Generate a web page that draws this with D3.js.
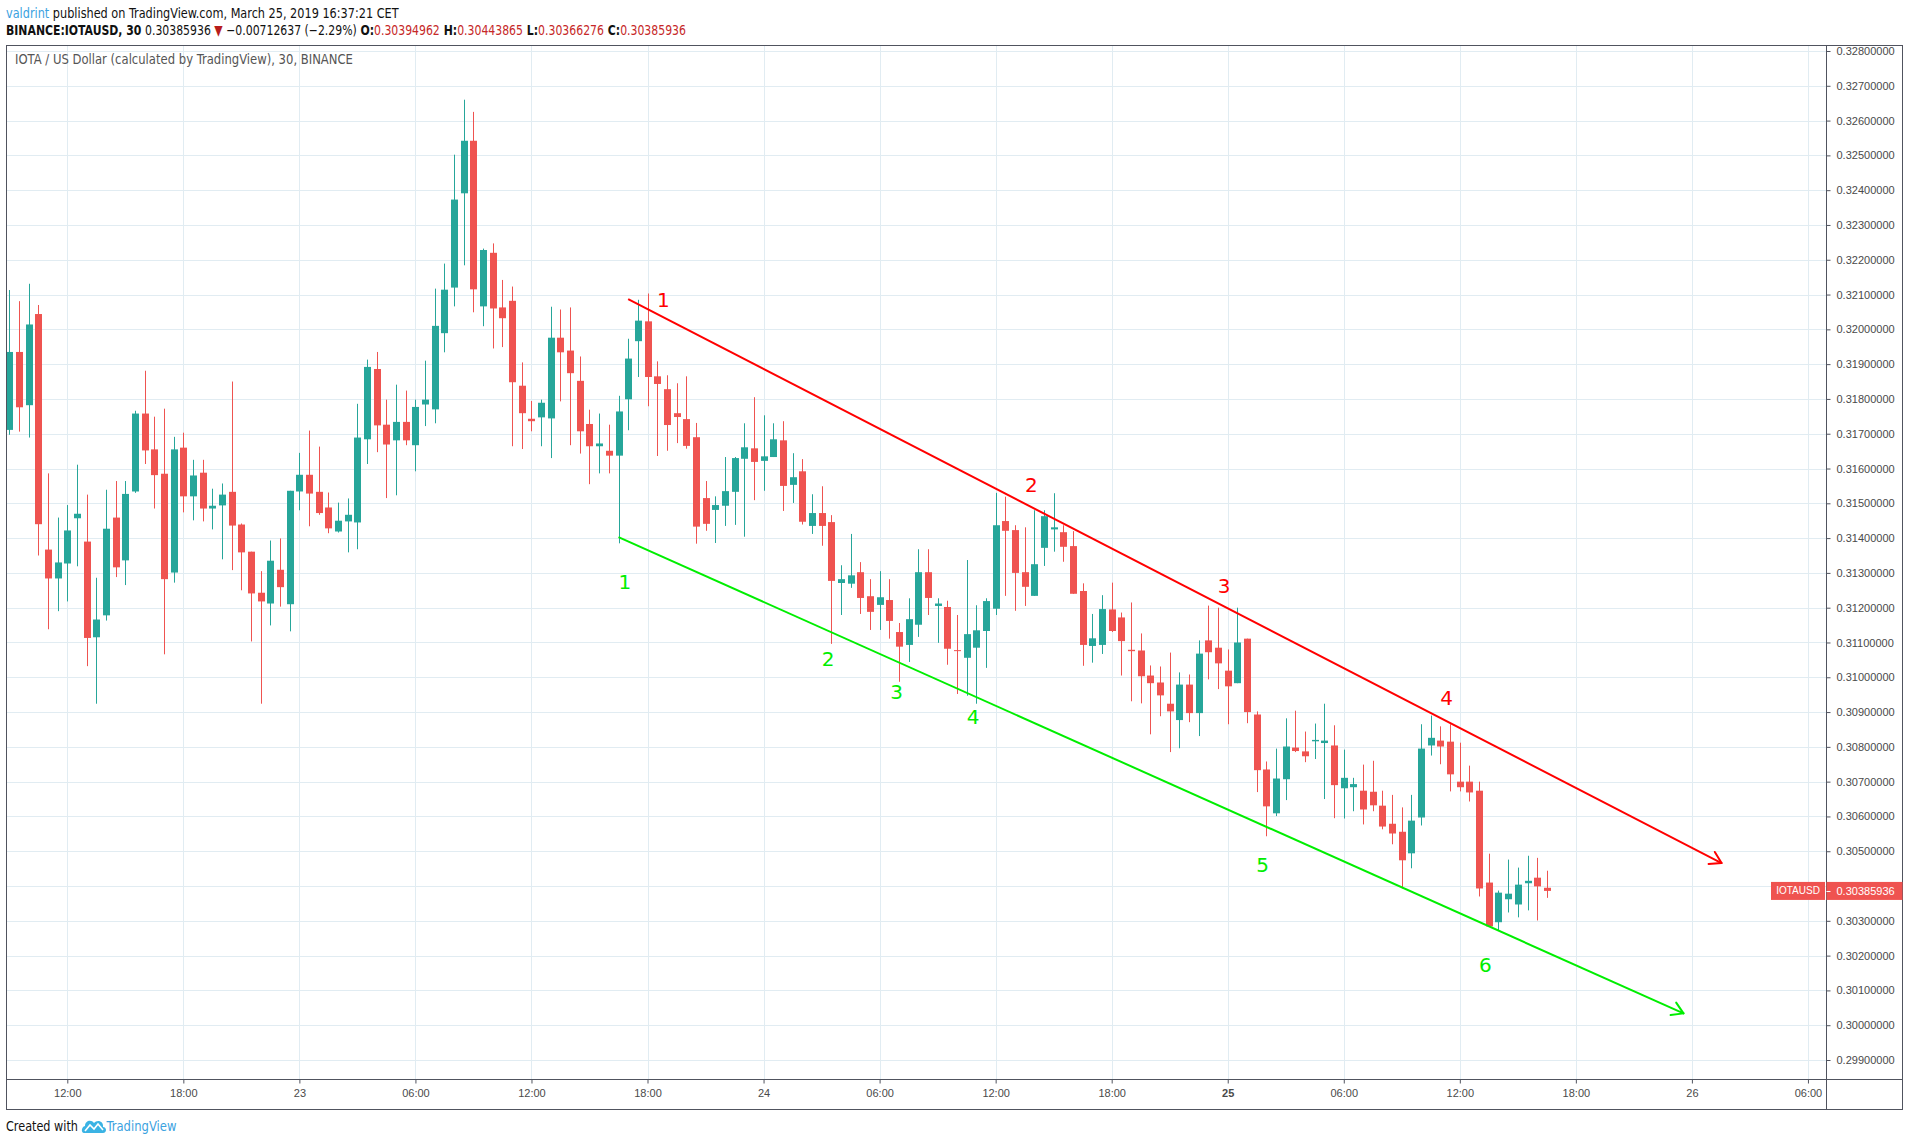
<!DOCTYPE html>
<html>
<head>
<meta charset="utf-8">
<script src="https://cdn.jsdelivr.net/npm/d3@7"></script>
<style>
body { margin: 0; background: #fff; }
svg { display: block; }
</style>
</head>
<body>
<svg id="chart" width="1909" height="1145"></svg>
<script>
// IOTA / USD, Binance, 30 min bars, first bar 22 March 2019 09:00 (CET shown as UTC)
var firstBar = Date.UTC(2019, 2, 22, 9, 0);

var opens = [
  0.31711,0.31935,0.31782,0.32044,0.31367,0.31284,0.31327,0.31457,0.31390,0.31115,
  0.31178,0.31459,0.31336,0.31534,0.31758,0.31655,0.31585,0.31301,0.31660,0.31520,
  0.31588,0.31485,0.31494,0.31533,0.31439,0.31361,0.31243,0.31212,0.31309,0.31210,
  0.31534,0.31582,0.31533,0.31488,0.31419,0.31448,0.31445,0.31684,0.31886,0.31726,
  0.31681,0.31734,0.31667,0.31784,0.31770,0.31989,0.32120,0.32391,0.32542,0.32066,
  0.32220,0.32063,0.32082,0.31838,0.31743,0.31747,0.31744,0.31976,0.31939,0.31852,
  0.31728,0.31664,0.31651,0.31637,0.31799,0.31966,0.32023,0.31865,0.31828,0.31759,
  0.31742,0.31690,0.31515,0.31481,0.31493,0.31533,0.31628,0.31658,0.31622,0.31633,
  0.31681,0.31553,0.31592,0.31435,0.31472,0.31446,0.31271,0.31269,0.31302,0.31233,
  0.31208,0.31222,0.31130,0.31093,0.31151,0.31302,0.31205,0.31202,0.31078,0.31056,
  0.31085,0.31133,0.31197,0.31449,0.31423,0.31302,0.31234,0.31372,0.31425,0.31417,
  0.31377,0.31248,0.31090,0.31093,0.31195,0.31172,0.31079,0.31077,0.31005,0.30985,
  0.30924,0.30877,0.30979,0.30897,0.31106,0.31085,0.31019,0.30983,0.31111,0.30893,
  0.30735,0.30609,0.30707,0.30798,0.30787,0.30816,0.30811,0.30804,0.30681,0.30684,
  0.30674,0.30671,0.30631,0.30579,0.30556,0.30494,0.30597,0.30804,0.30818,0.30815,
  0.30700,0.30700,0.30674,0.30410,0.30296,0.30362,0.30347,0.30408,0.30424,0.30395
];
var highs = [
  0.32113,0.32081,0.32131,0.32070,0.31586,0.31459,0.31495,0.31611,0.31525,0.31286,
  0.31539,0.31564,0.31564,0.31766,0.31881,0.31749,0.31772,0.31691,0.31703,0.31625,
  0.31625,0.31542,0.31557,0.31850,0.31442,0.31361,0.31305,0.31393,0.31399,0.31536,
  0.31645,0.31709,0.31663,0.31531,0.31502,0.31514,0.31786,0.31913,0.31935,0.31798,
  0.31841,0.31824,0.31798,0.31910,0.32117,0.32189,0.32502,0.32660,0.32625,0.32232,
  0.32247,0.32142,0.32123,0.31905,0.31794,0.31798,0.32065,0.32057,0.32063,0.31922,
  0.31769,0.31758,0.31726,0.31809,0.31973,0.32085,0.32103,0.31908,0.31868,0.31845,
  0.31865,0.31731,0.31564,0.31520,0.31633,0.31633,0.31730,0.31805,0.31753,0.31730,
  0.31736,0.31644,0.31627,0.31526,0.31549,0.31466,0.31322,0.31412,0.31331,0.31282,
  0.31305,0.31282,0.31156,0.31227,0.31368,0.31368,0.31227,0.31220,0.31179,0.31337,
  0.31207,0.31227,0.31530,0.31519,0.31437,0.31431,0.31480,0.31480,0.31529,0.31437,
  0.31420,0.31270,0.31182,0.31236,0.31272,0.31186,0.31215,0.31126,0.31034,0.31031,
  0.31071,0.31014,0.31008,0.31106,0.31206,0.31200,0.31080,0.31200,0.31111,0.30902,
  0.30758,0.30795,0.30882,0.30904,0.30844,0.30867,0.30924,0.30862,0.30792,0.30711,
  0.30749,0.30760,0.30674,0.30662,0.30626,0.30662,0.30865,0.30890,0.30859,0.30865,
  0.30812,0.30746,0.30700,0.30493,0.30387,0.30476,0.30453,0.30487,0.30481,0.30444
];
var lows = [
  0.31697,0.31706,0.31689,0.31350,0.31138,0.31190,0.31218,0.31319,0.31032,0.30924,
  0.31163,0.31288,0.31265,0.31530,0.31613,0.31485,0.31066,0.31272,0.31474,0.31451,
  0.31448,0.31425,0.31339,0.31308,0.31250,0.31103,0.30924,0.31149,0.31203,0.31132,
  0.31480,0.31434,0.31467,0.31414,0.31416,0.31359,0.31368,0.31613,0.31647,0.31515,
  0.31523,0.31667,0.31592,0.31722,0.31730,0.31934,0.32066,0.32184,0.32049,0.32009,
  0.31945,0.31949,0.31664,0.31656,0.31707,0.31664,0.31630,0.31793,0.31667,0.31643,
  0.31555,0.31586,0.31586,0.31385,0.31710,0.31863,0.31779,0.31636,0.31651,0.31673,
  0.31657,0.31384,0.31421,0.31386,0.31435,0.31438,0.31404,0.31509,0.31536,0.31633,
  0.31478,0.31501,0.31439,0.31412,0.31378,0.31096,0.31179,0.31257,0.31182,0.31136,
  0.31136,0.31111,0.30987,0.31044,0.31116,0.31179,0.31099,0.31036,0.30952,0.30947,
  0.30924,0.31027,0.31179,0.31234,0.31191,0.31205,0.31234,0.31320,0.31361,0.31332,
  0.31240,0.31033,0.31042,0.31067,0.31130,0.31005,0.30931,0.30925,0.30836,0.30888,
  0.30785,0.30796,0.30871,0.30831,0.30994,0.30966,0.30865,0.30983,0.30868,0.30670,
  0.30543,0.30601,0.30647,0.30785,0.30756,0.30765,0.30650,0.30595,0.30594,0.30615,
  0.30577,0.30615,0.30563,0.30520,0.30393,0.30451,0.30574,0.30775,0.30750,0.30672,
  0.30672,0.30643,0.30370,0.30284,0.30273,0.30324,0.30310,0.30330,0.30301,0.30366
];
var closes = [
  0.31935,0.31776,0.32014,0.31440,0.31284,0.31330,0.31422,0.31470,0.31113,0.31166,
  0.31427,0.31316,0.31527,0.31758,0.31652,0.31581,0.31282,0.31655,0.31520,0.31580,
  0.31485,0.31493,0.31525,0.31436,0.31359,0.31241,0.31218,0.31335,0.31259,0.31536,
  0.31582,0.31528,0.31472,0.31428,0.31450,0.31467,0.31689,0.31892,0.31724,0.31669,
  0.31734,0.31681,0.31777,0.31798,0.32010,0.32114,0.32373,0.32542,0.32115,0.32228,
  0.32060,0.32032,0.31848,0.31759,0.31736,0.31789,0.31976,0.31934,0.31874,0.31707,
  0.31664,0.31672,0.31637,0.31764,0.31916,0.32025,0.31863,0.31843,0.31725,0.31748,
  0.31665,0.31433,0.31441,0.31495,0.31535,0.31630,0.31661,0.31619,0.31635,0.31684,
  0.31550,0.31575,0.31447,0.31472,0.31435,0.31277,0.31282,0.31293,0.31228,0.31188,
  0.31230,0.31162,0.31088,0.31167,0.31302,0.31228,0.31212,0.31082,0.31076,0.31124,
  0.31135,0.31219,0.31437,0.31421,0.31300,0.31260,0.31325,0.31463,0.31431,0.31375,
  0.31240,0.31093,0.31112,0.31196,0.31133,0.31104,0.31075,0.31003,0.30983,0.30948,
  0.30902,0.30979,0.30897,0.31068,0.31072,0.31040,0.30974,0.31100,0.30900,0.30733,
  0.30629,0.30709,0.30801,0.30788,0.30773,0.30820,0.30818,0.30690,0.30711,0.30693,
  0.30620,0.30632,0.30571,0.30551,0.30474,0.30588,0.30795,0.30826,0.30801,0.30721,
  0.30684,0.30669,0.30393,0.30284,0.30381,0.30378,0.30404,0.30415,0.30399,0.30386
];

// price axis ticks and time axis ticks
var priceTicks = d3.range(299, 329).map(function(v) { return v / 1000; });
var timeTicks = d3.utcHour.every(6).range(new Date(Date.UTC(2019, 2, 22, 12)), new Date(Date.UTC(2019, 2, 26, 7)));

// channel lines drawn on the chart: [time, price] start and end
var upperLine = [["2019-03-23T17:00Z", 0.32087], ["2019-03-26T01:32Z", 0.30466]];
var lowerLine = [["2019-03-23T16:30Z", 0.31403], ["2019-03-25T23:34Z", 0.30034]];

// touch point numbers
var upperNums = ["1", "2", "3", "4"];
var upperNumTimes = ["2019-03-23T18:49Z", "2019-03-24T13:51Z", "2019-03-24T23:49Z", "2019-03-25T11:19Z"];
var upperNumPrices = [0.32085, 0.31553, 0.31261, 0.30940];
var lowerNums = ["1", "2", "3", "4", "5", "6"];
var lowerNumTimes = ["2019-03-23T16:50Z", "2019-03-24T03:20Z", "2019-03-24T06:53Z", "2019-03-24T10:50Z", "2019-03-25T01:48Z", "2019-03-25T13:19Z"];
var lowerNumPrices = [0.31273, 0.31052, 0.30957, 0.30885, 0.30461, 0.30174];

var lastPrice = 0.30385936;

var upColor = "#26a69a", downColor = "#ef5350";
var gridColor = "#e1ecf2", frameColor = "#50535e", textColor = "#4a4a4a";

var svg = d3.select("#chart");
var plotLeft = 6.5, plotTop = 45.5, plotRight = 1826.5, boxRight = 1902.5, axisY = 1079.5, boxBottom = 1109.5;

var bars = d3.utcMinute.every(30).range(new Date(firstBar), new Date(firstBar + opens.length * 1800000));

var x = d3.scaleUtc()
    .domain([new Date(Date.UTC(2019, 2, 22, 12)), new Date(Date.UTC(2019, 2, 26, 0))])
    .range([67.3, 1691.9]);
var y = d3.scaleLinear()
    .domain([0.299, 0.328])
    .range([1060, 51]);

svg.append("rect").attr("width", 1909).attr("height", 1145).attr("fill", "#fff");

svg.append("defs").append("clipPath").attr("id", "plot")
  .append("rect")
    .attr("x", plotLeft).attr("y", plotTop)
    .attr("width", plotRight - plotLeft).attr("height", axisY - plotTop);

// grid
var grid = svg.append("g").attr("clip-path", "url(#plot)");
grid.selectAll(".vg").data(timeTicks).enter().append("line")
    .attr("x1", function(d) { return Math.round(x(d)) + 0.5; })
    .attr("x2", function(d) { return Math.round(x(d)) + 0.5; })
    .attr("y1", plotTop).attr("y2", axisY)
    .attr("stroke", gridColor);
grid.selectAll(".hg").data(priceTicks).enter().append("line")
    .attr("y1", function(d) { return Math.round(y(d)) + 0.5; })
    .attr("y2", function(d) { return Math.round(y(d)) + 0.5; })
    .attr("x1", plotLeft).attr("x2", plotRight)
    .attr("stroke", gridColor);

// candles
var candles = svg.append("g").attr("clip-path", "url(#plot)");
var c = candles.selectAll("g.c").data(bars).enter().append("g");
c.append("line")
    .attr("x1", function(d) { return Math.round(x(d)) + 0.5; })
    .attr("x2", function(d) { return Math.round(x(d)) + 0.5; })
    .attr("y1", function(d, i) { return y(highs[i]); })
    .attr("y2", function(d, i) { return y(lows[i]); })
    .attr("stroke", function(d, i) { return closes[i] >= opens[i] ? upColor : downColor; })
    .attr("stroke-width", 1);
c.append("rect")
    .attr("x", function(d) { return Math.round(x(d)) - 3; })
    .attr("width", 7)
    .attr("y", function(d, i) { return y(Math.max(opens[i], closes[i])); })
    .attr("height", function(d, i) { return Math.max(1, Math.abs(y(opens[i]) - y(closes[i]))); })
    .attr("fill", function(d, i) { return closes[i] >= opens[i] ? upColor : downColor; });

// channel lines with open arrow heads
function drawTrend(pts, color) {
  var p = pts.map(function(d) { return [x(new Date(d[0])), y(d[1])]; });
  var g = svg.append("g").attr("clip-path", "url(#plot)");
  g.append("line")
      .attr("x1", p[0][0]).attr("y1", p[0][1])
      .attr("x2", p[1][0]).attr("y2", p[1][1])
      .attr("stroke", color).attr("stroke-width", 2);
  var a = Math.atan2(p[1][1] - p[0][1], p[1][0] - p[0][0]);
  [0.55, -0.55].forEach(function(s) {
    g.append("line")
        .attr("x1", p[1][0]).attr("y1", p[1][1])
        .attr("x2", p[1][0] - 13 * Math.cos(a + s))
        .attr("y2", p[1][1] - 13 * Math.sin(a + s))
        .attr("stroke", color).attr("stroke-width", 2).attr("stroke-linecap", "round");
  });
}
drawTrend(upperLine, "#ff0000");
drawTrend(lowerLine, "#00ee00");

function drawNums(nums, times, prices, color) {
  svg.append("g").selectAll("text").data(nums).enter().append("text")
      .attr("x", function(d, i) { return x(new Date(times[i])); })
      .attr("y", function(d, i) { return y(prices[i]); })
      .attr("text-anchor", "middle")
      .attr("dominant-baseline", "central")
      .attr("font-family", "DejaVu Sans, Verdana, sans-serif")
      .attr("font-size", 20)
      .attr("fill", color)
      .text(function(d) { return d; });
}
drawNums(upperNums, upperNumTimes, upperNumPrices, "#ff0000");
drawNums(lowerNums, lowerNumTimes, lowerNumPrices, "#00ee00");

// axes
var xAxis = svg.append("g")
    .attr("transform", "translate(0," + axisY + ")")
    .call(d3.axisBottom(x).tickValues(timeTicks).tickSize(4).tickSizeOuter(0)
      .tickFormat(function(d) {
        return d.getUTCHours() === 0 ? String(d.getUTCDate()) : d3.utcFormat("%H:%M")(d);
      }));
xAxis.select(".domain").remove();
xAxis.selectAll("line").attr("stroke", frameColor);
xAxis.selectAll("text")
    .attr("y", 10)
    .attr("font-family", "Liberation Sans, Arial, sans-serif")
    .attr("font-size", 11)
    .attr("fill", textColor)
    .attr("font-weight", function(d) { return d.getUTCDate() === 25 && d.getUTCHours() === 0 ? "bold" : null; });

// the label under the last price tag is hidden, as on the original
var labelTicks = priceTicks.filter(function(v) { return Math.abs(y(v) - y(lastPrice)) > 12; });
var yAxis = svg.append("g")
    .attr("transform", "translate(" + plotRight + ",0)")
    .call(d3.axisRight(y).tickValues(labelTicks).tickSize(4).tickSizeOuter(0).tickFormat(d3.format(".8f")));
yAxis.select(".domain").remove();
yAxis.selectAll("line").attr("stroke", frameColor);
yAxis.selectAll("text")
    .attr("x", 10)
    .attr("font-family", "Liberation Sans, Arial, sans-serif")
    .attr("font-size", 11)
    .attr("fill", textColor);

// frame
var frame = svg.append("g").attr("stroke", frameColor).attr("fill", "none");
frame.append("rect").attr("x", plotLeft).attr("y", plotTop).attr("width", boxRight - plotLeft).attr("height", boxBottom - plotTop);
frame.append("line").attr("x1", plotRight).attr("x2", plotRight).attr("y1", plotTop).attr("y2", boxBottom);
frame.append("line").attr("x1", plotLeft).attr("x2", boxRight).attr("y1", axisY).attr("y2", axisY);

// last price marker
var ly = y(lastPrice);
svg.append("rect").attr("x", plotRight).attr("y", ly - 9).attr("width", boxRight - plotRight).attr("height", 18).attr("fill", downColor);
svg.append("line").attr("x1", plotRight).attr("x2", plotRight + 4).attr("y1", Math.round(ly) + 0.5).attr("y2", Math.round(ly) + 0.5).attr("stroke", "#fff");
svg.append("text").attr("x", plotRight + 10).attr("y", ly).attr("dominant-baseline", "central")
    .attr("font-family", "Liberation Sans, Arial, sans-serif").attr("font-size", 11).attr("fill", "#fff")
    .text(d3.format(".8f")(lastPrice));
svg.append("rect").attr("x", 1771).attr("y", ly - 9).attr("width", plotRight - 1.5 - 1771).attr("height", 18).attr("fill", downColor);
svg.append("text").attr("x", (1771 + plotRight - 1.5) / 2).attr("y", ly).attr("dominant-baseline", "central")
    .attr("text-anchor", "middle")
    .attr("font-family", "Liberation Sans, Arial, sans-serif").attr("font-size", 10).attr("fill", "#fff")
    .text("IOTAUSD");

// header / footer text: pieces laid out one after another, then squeezed to the original width
var headFont = "DejaVu Sans Condensed, Liberation Sans, sans-serif";
function textRow(px, py, width, pieces) {
  var g = svg.append("g");
  var inner = g.append("g");
  var cx = 0;
  pieces.forEach(function(p) {
    var t = inner.append("text").attr("x", cx).attr("y", 0)
        .attr("font-family", headFont).attr("font-size", 14)
        .attr("fill", p.color || "#111")
        .attr("font-weight", p.bold ? "bold" : null)
        .attr("xml:space", "preserve")
        .style("white-space", "pre")
        .text(p.text);
    cx += t.node().getComputedTextLength();
  });
  g.attr("transform", "translate(" + px + "," + py + ") scale(" + (width / cx) + ",1)");
}

var valRed = "#c62828";
textRow(6, 18, 393, [
  { text: "valdrint", color: "#3ba2df" },
  { text: " published on TradingView.com, March 25, 2019 16:37:21 CET" }
]);
var row2 = [
  { text: "BINANCE:IOTAUSD, 30", bold: true },
  { text: " 0.30385936 " },
  { text: "\u25BC", color: "#b71c1c" },
  { text: " \u22120.00712637 (\u22122.29%) " }
];
[["O:", "0.30394962"], ["H:", "0.30443865"], ["L:", "0.30366276"], ["C:", "0.30385936"]].forEach(function(p, i) {
  row2.push({ text: (i ? " " : "") + p[0], bold: true });
  row2.push({ text: p[1], color: valRed });
});
textRow(6, 35, 680, row2);
textRow(15, 64, 338, [{ text: "IOTA / US Dollar (calculated by TradingView), 30, BINANCE", color: "#555" }]);

textRow(6, 1131, 72, [{ text: "Created with" }]);
var logo = svg.append("g").attr("transform", "translate(82,1118)");
logo.append("path")
    .attr("d", "M2,15 C-1,15 -1,9 3,8 C3,3 9,1 12,5 C15,1 22,3 21,9 C25,9 25,15 21,15 Z")
    .attr("fill", "#3bb3e4");
logo.append("polyline")
    .attr("points", "3,13 8,7 12,11 16,6 21,12")
    .attr("fill", "none").attr("stroke", "#fff").attr("stroke-width", 1.6);
textRow(106.5, 1131, 70, [{ text: "TradingView", color: "#3ba2df" }]);
</script>
</body>
</html>
